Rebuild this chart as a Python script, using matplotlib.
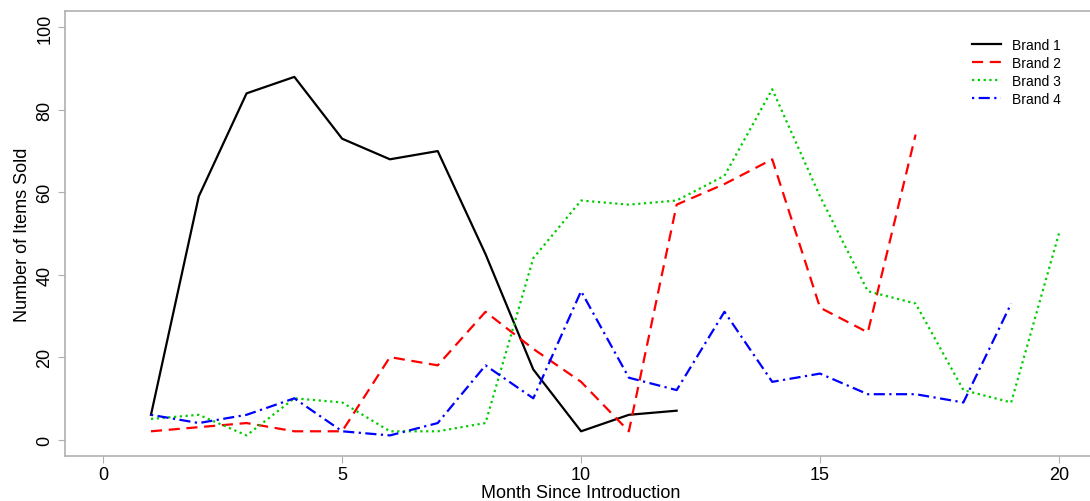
import numpy as np
import matplotlib.pyplot as plt

plt.rcParams['font.family'] = ['Liberation Sans', 'DejaVu Sans']

# data
months = list(range(1, 21))
brand1 = [6, 59, 84, 88, 73, 68, 70, 45, 17, 2, 6, 7]
brand2 = [2, 3, 4, 2, 2, 20, 18, 31, 22, 14, 2, 57, 62, 68, 32, 26, 74]
brand3 = [5, 6, 1, 10, 9, 2, 2, 4, 44, 58, 57, 58, 64, 85, 59, 36, 33, 12, 9, 50]
brand4 = [6, 4, 6, 10, 2, 1, 4, 18, 10, 36, 15, 12, 31, 14, 16, 11, 11, 9, 33]
labels = ['Brand 1', 'Brand 2', 'Brand 3', 'Brand 4']
xticks = [0, 5, 10, 15, 20]
yticks = [0, 20, 40, 60, 80, 100]

fig = plt.figure(figsize=(10.9, 5.02), dpi=100)
ax = fig.add_axes([0.0596, 0.0896, 0.947, 0.8866])

series = [brand1, brand2, brand3, brand4]
colors = ['black', '#ff0000', '#00cc00', '#0000ff']
dashes = [None, (5, 3), (1, 1.6), (1, 2, 5, 2)]

for vals, lab, col, ds in zip(series, labels, colors, dashes):
    x = months[:len(vals)]
    line, = ax.plot(x, vals, color=col, lw=1.6, label=lab)
    if ds is not None:
        line.set_dashes(ds)

ax.set_xlim(-0.8, 20.8)
ax.set_ylim(-4, 104)
ax.set_xticks(xticks)
ax.set_yticks(yticks)
ax.set_yticklabels([str(v) for v in yticks], rotation=90, va='center')

for s in ax.spines.values():
    s.set_color('#b0b0b0')
    s.set_linewidth(1.2)
ax.tick_params(colors='#b0b0b0', labelcolor='black', labelsize=13, length=5)
ax.tick_params(axis='x', pad=2)

ax.set_xlabel('Month Since Introduction', fontsize=13, labelpad=1)
ax.set_ylabel('Number of Items Sold', fontsize=13, labelpad=4)

leg = ax.legend(loc='upper right', bbox_to_anchor=(0.965, 0.94), frameon=False,
                fontsize=10, handlelength=2.1, handletextpad=0.8, labelspacing=0.3,
                borderpad=0, borderaxespad=0)

fig.savefig('out.png', dpi=100)
